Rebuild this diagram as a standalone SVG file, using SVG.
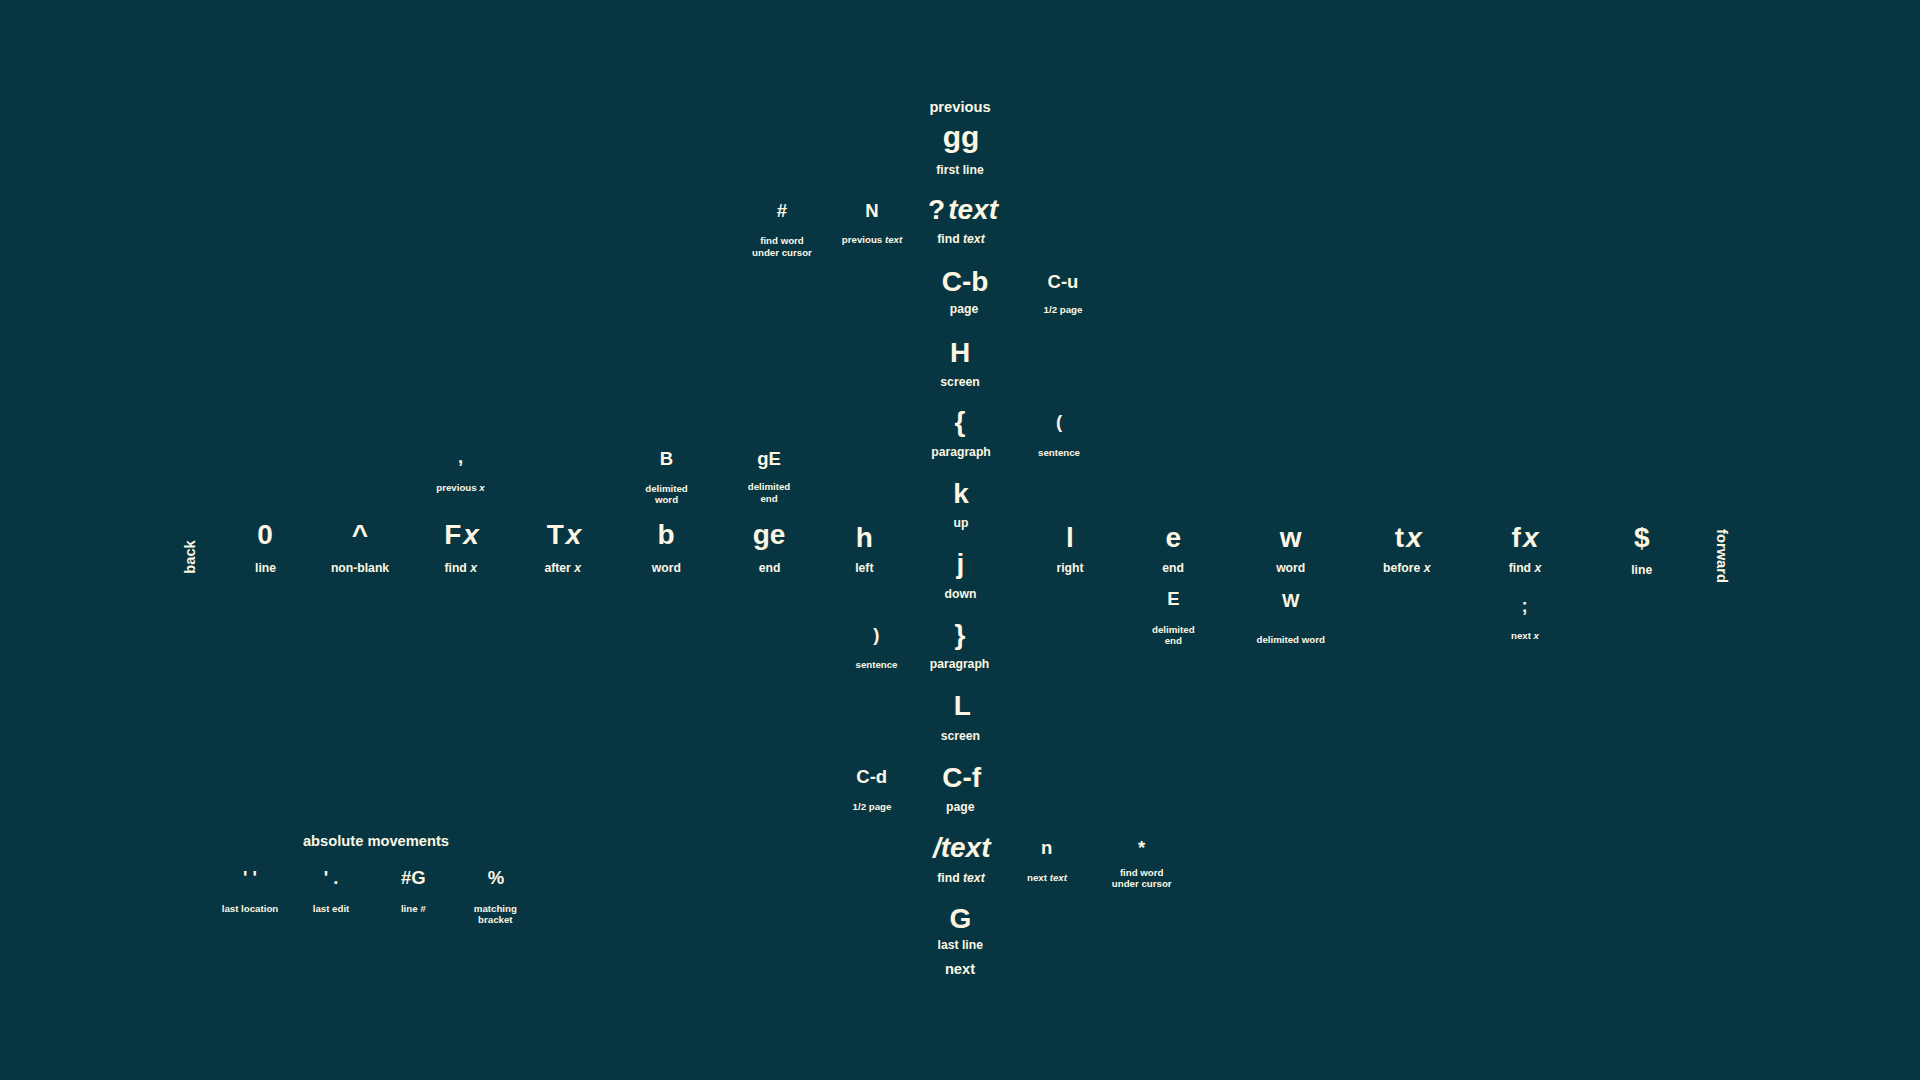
<svg xmlns="http://www.w3.org/2000/svg" width="1920" height="1080" viewBox="0 0 1920 1080">
<style>
text{font-family:"Liberation Sans",Arial,sans-serif;font-weight:bold;fill:#fdf6e3;text-anchor:middle}
.k{font-size:28px}
.kx{font-size:28px;letter-spacing:2px}
.m{font-size:18.5px}
.l{font-size:12.2px}
.s{font-size:9.7px}
.h{font-size:14.7px}
.i{font-style:italic}
</style>
<rect width="1920" height="1080" fill="#073642"/>
<g id="headings">
<text class="h" x="960" y="112">previous</text>
<text class="h" x="960" y="974">next</text>
<text class="h" transform="translate(195,557) rotate(-90)">back</text>
<text class="h" transform="translate(1717,556) rotate(90)">forward</text>
<text class="h" x="376" y="846">absolute movements</text>
</g>
<g id="node-gg"><text class="k" x="961" y="147" style="font-size:30px">gg</text><text class="l" x="960" y="174">first line</text></g>
<g id="node-hash"><text class="m" x="782" y="217">#</text><text class="s" x="782" y="244">find word</text><text class="s" x="782" y="255.7">under cursor</text></g>
<g id="node-N"><text class="m" x="872" y="217">N</text><text class="s" x="872" y="243">previous <tspan class="i">text</tspan></text></g>
<g id="node-qtext"><text class="k" x="963" y="219">?<tspan class="i" dx="3">text</tspan></text><text class="l" x="961" y="243">find <tspan class="i">text</tspan></text></g>
<g id="node-Cb"><text class="k" x="965" y="291">C-b</text><text class="l" x="964" y="313">page</text></g>
<g id="node-Cu"><text class="m" x="1063" y="288">C-u</text><text class="s" x="1063" y="313">1/2 page</text></g>
<g id="node-H"><text class="k" x="960" y="362">H</text><text class="l" x="960" y="386">screen</text></g>
<g id="node-lbrace"><text class="k" x="960" y="431">{</text><text class="l" x="961" y="456">paragraph</text></g>
<g id="node-lparen"><text class="m" x="1059" y="428">(</text><text class="s" x="1059" y="456">sentence</text></g>
<g id="node-k"><text class="k" x="961" y="503">k</text><text class="l" x="961" y="527">up</text></g>
<g id="node-comma"><text class="m" x="460.5" y="463">,</text><text class="s" x="460.5" y="491">previous <tspan class="i">x</tspan></text></g>
<g id="node-B"><text class="m" x="666.5" y="465">B</text><text class="s" x="666.5" y="491.7">delimited</text><text class="s" x="666.5" y="502.7">word</text></g>
<g id="node-gE"><text class="m" x="769" y="465">gE</text><text class="s" x="769" y="490">delimited</text><text class="s" x="769" y="501.7">end</text></g>
<g id="node-0"><text class="k" x="265" y="544">0</text><text class="l" x="265.5" y="571.7">line</text></g>
<g id="node-caret"><text class="k" x="360" y="544">^</text><text class="l" x="360" y="571.7">non-blank</text></g>
<g id="node-Fx"><text class="kx" x="462.5" y="544">F<tspan class="i">x</tspan></text><text class="l" x="460.7" y="571.7">find <tspan class="i">x</tspan></text></g>
<g id="node-Tx"><text class="kx" x="565" y="544">T<tspan class="i">x</tspan></text><text class="l" x="562.7" y="571.7">after <tspan class="i">x</tspan></text></g>
<g id="node-b"><text class="k" x="666" y="544">b</text><text class="l" x="666.3" y="571.7">word</text></g>
<g id="node-ge"><text class="k" x="769" y="544">ge</text><text class="l" x="769.5" y="571.7">end</text></g>
<g id="node-h"><text class="k" x="864.3" y="547">h</text><text class="l" x="864.3" y="571.7">left</text></g>
<g id="node-j"><text class="k" x="960.5" y="573">j</text><text class="l" x="960.5" y="598">down</text></g>
<g id="node-l"><text class="k" x="1070" y="547">l</text><text class="l" x="1070" y="571.7">right</text></g>
<g id="node-e"><text class="k" x="1173.3" y="547">e</text><text class="l" x="1173" y="571.7">end</text></g>
<g id="node-w"><text class="k" x="1290.7" y="547">w</text><text class="l" x="1290.7" y="571.7">word</text></g>
<g id="node-tx"><text class="kx" x="1409.3" y="547">t<tspan class="i">x</tspan></text><text class="l" x="1406.7" y="571.7">before <tspan class="i">x</tspan></text></g>
<g id="node-fx"><text class="kx" x="1526" y="547">f<tspan class="i">x</tspan></text><text class="l" x="1525" y="571.7">find <tspan class="i">x</tspan></text></g>
<g id="node-dollar"><text class="k" x="1641.7" y="547">$</text><text class="l" x="1641.7" y="574">line</text></g>
<g id="node-E"><text class="m" x="1173.3" y="605">E</text><text class="s" x="1173.3" y="633">delimited</text><text class="s" x="1173.3" y="644">end</text></g>
<g id="node-W"><text class="m" x="1290.7" y="606.5">W</text><text class="s" x="1290.7" y="642.7">delimited word</text></g>
<g id="node-semicolon"><text class="m" x="1524.5" y="611.5">;</text><text class="s" x="1525" y="639.3">next <tspan class="i">x</tspan></text></g>
<g id="node-rparen"><text class="m" x="876.3" y="641">)</text><text class="s" x="876.5" y="668.3">sentence</text></g>
<g id="node-rbrace"><text class="k" x="960" y="643.5">}</text><text class="l" x="959.5" y="668">paragraph</text></g>
<g id="node-L"><text class="k" x="962.3" y="715">L</text><text class="l" x="960.3" y="740">screen</text></g>
<g id="node-Cd"><text class="m" x="871.7" y="782.7">C-d</text><text class="s" x="872" y="810">1/2 page</text></g>
<g id="node-Cf"><text class="k" x="961.7" y="786.7">C-f</text><text class="l" x="960.3" y="811">page</text></g>
<g id="node-stext"><text class="k i" x="961.7" y="856.7">/text</text><text class="l" x="961" y="881.7">find <tspan class="i">text</tspan></text></g>
<g id="node-n"><text class="m" x="1046.7" y="854">n</text><text class="s" x="1047" y="881">next <tspan class="i">text</tspan></text></g>
<g id="node-star"><text class="m" x="1141.7" y="854">*</text><text class="s" x="1141.7" y="875.7">find word</text><text class="s" x="1141.7" y="887.3">under cursor</text></g>
<g id="node-G"><text class="k" x="960.3" y="927.7">G</text><text class="l" x="960.3" y="949.3">last line</text></g>
<g id="node-quotes"><text class="m" x="250" y="884">' '</text><text class="s" x="250" y="911.7">last location</text></g>
<g id="node-quotedot"><text class="m" x="331" y="884">' .</text><text class="s" x="331" y="911.7">last edit</text></g>
<g id="node-numG"><text class="m" x="413.3" y="884">#G</text><text class="s" x="413.3" y="911.7">line <tspan class="i">#</tspan></text></g>
<g id="node-percent"><text class="m" x="496" y="884">%</text><text class="s" x="495.3" y="912.3">matching</text><text class="s" x="495.3" y="923.3">bracket</text></g>
</svg>
